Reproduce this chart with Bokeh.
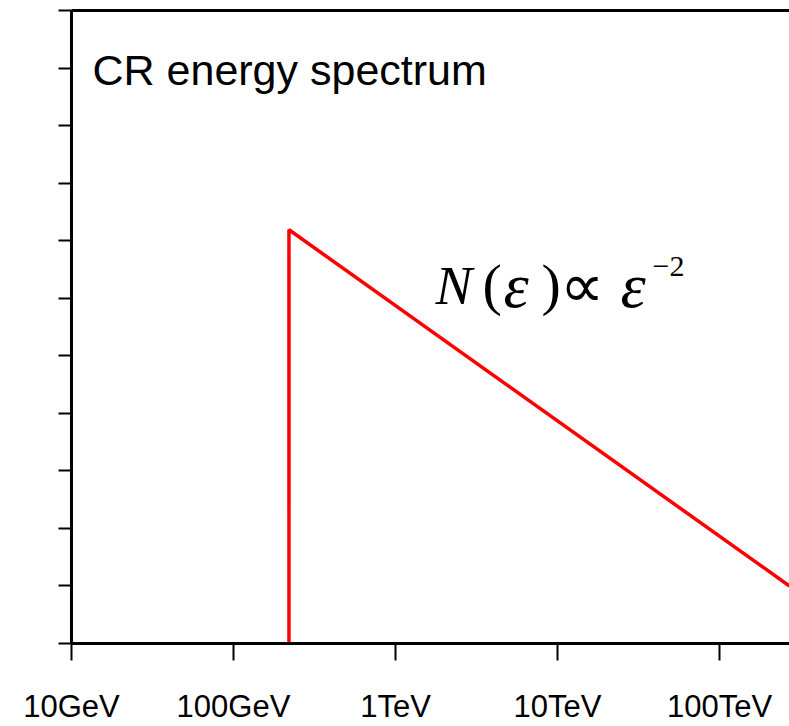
from bokeh.plotting import figure
from bokeh.models import FixedTicker, Label, LogAxis, Range1d
from bokeh.embed import file_html
from bokeh.resources import INLINE

# ---- data ----
energy_gev = [220, 220, 270000]          # cutoff at ~220 GeV, then E^-2 power law
flux = [1e-11, 1.55e-4, 1.0e-10]          # arbitrary units, one y tick per decade
x_tick_values = [10, 100, 1000, 10000, 100000]
x_tick_labels = ["10GeV", "100GeV", "1TeV", "10TeV", "100TeV"]
y_tick_values = [10.0 ** k for k in range(-11, 1)]

X_START, X_END = 10, 10 ** (1 + 718 / 162)
Y_START, Y_END = 1e-11, 1.0

W, H = 789, 726
LEFT, TOP, BOTTOM = 71, 10, 82

p = figure(width=W, height=H, x_axis_type="log", y_axis_type="log",
           x_range=Range1d(X_START, X_END), y_range=Range1d(Y_START, Y_END),
           output_backend="svg", toolbar_location=None,
           min_border_left=LEFT, min_border_right=0,
           min_border_top=TOP, min_border_bottom=BOTTOM)
p.outline_line_color = None
p.grid.visible = False
p.background_fill_color = "white"
p.border_fill_color = "white"

# x axis
xa = p.xaxis[0]
xa.ticker = FixedTicker(ticks=x_tick_values)
xa.major_label_overrides = {v: s for v, s in zip(x_tick_values, x_tick_labels)}
xa.axis_line_width = 3
xa.axis_line_color = "black"
xa.major_tick_line_width = 2
xa.major_tick_out = 17
xa.major_tick_in = 0
xa.minor_tick_line_color = None
xa.major_label_text_font = "Liberation Sans"
xa.major_label_text_font_size = "31px"
xa.major_label_text_color = "black"
xa.major_label_standoff = 28

# y axis (ticks only, labels invisible)
ya = p.yaxis[0]
ya.ticker = FixedTicker(ticks=y_tick_values)
ya.axis_line_width = 3
ya.axis_line_color = "black"
ya.major_tick_line_width = 2
ya.major_tick_out = 13
ya.major_tick_in = 0
ya.minor_tick_line_color = None
ya.major_label_text_font_size = "2px"
ya.major_label_text_color = None
ya.major_label_standoff = 0

# top frame line (axis with no visible ticks or labels)
top = LogAxis(ticker=FixedTicker(ticks=[X_START]), axis_line_width=3,
              axis_line_color="black", major_tick_line_color=None,
              major_tick_out=0, major_tick_in=0, minor_tick_line_color=None,
              major_label_text_font_size="2px", major_label_text_color=None,
              major_label_standoff=0)
p.add_layout(top, "above")

p.line(energy_gev, flux, line_color="#ff0000", line_width=3.5)

# ---- annotations ----
OFF = 18

def ex(px):
    return 10 ** (1 + (px - LEFT) / 162)

def ny(py):
    return 10 ** (-11 + (644 - (py - OFF)) / ((644 - TOP) / 11))

p.add_layout(Label(x=ex(92), y=ny(88), text="CR energy spectrum",
                   text_font="Liberation Sans", text_font_size="43px",
                   text_color="black", text_baseline="alphabetic"))

pieces = [
    ("N", 435, 303, "55px", "italic"),
    ("(", 482, 302, "58px", "normal"),
    ("\u03b5", 503, 303, "64px", "italic"),
    (")", 541, 302, "58px", "normal"),
    ("\u221d", 559, 304, "62px", "normal"),
    ("\u03b5", 620, 303, "64px", "italic"),
    ("\u22122", 652, 284, "30px", "normal"),
]
for txt, px, py, size, style in pieces:
    p.add_layout(Label(x=ex(px), y=ny(py), text=txt,
                       text_font="Liberation Serif", text_font_size=size,
                       text_font_style=style, text_color="black",
                       text_baseline="alphabetic"))

open("out.html", "w").write(file_html(p, INLINE))
